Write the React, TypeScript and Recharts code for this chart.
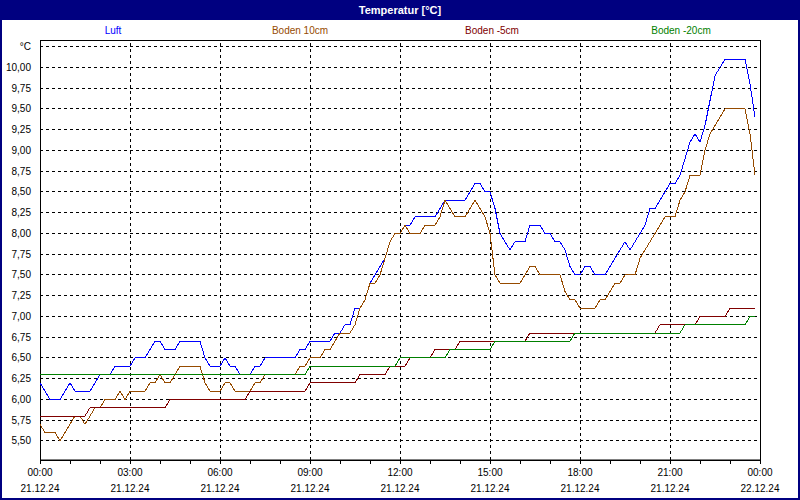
import {
  LineChart,
  Line,
  XAxis,
  YAxis,
  CartesianGrid,
  ReferenceLine,
  ReferenceArea,
} from "recharts";

// 10-minute readings, 00:00 .. 23:50 (12 values per row = 2 hours)
const luft = [
  6.2, 6.1, 6.0, 6.0, 6.0, 6.1, 6.2, 6.1, 6.1, 6.1, 6.1, 6.2,
  6.3, 6.3, 6.3, 6.4, 6.4, 6.4, 6.4, 6.5, 6.5, 6.5, 6.6, 6.7,
  6.7, 6.6, 6.6, 6.6, 6.7, 6.7, 6.7, 6.7, 6.7, 6.5, 6.4, 6.4,
  6.4, 6.5, 6.4, 6.4, 6.3, 6.3, 6.3, 6.4, 6.4, 6.5, 6.5, 6.5,
  6.5, 6.5, 6.5, 6.5, 6.6, 6.6, 6.7, 6.7, 6.7, 6.7, 6.7, 6.8,
  6.8, 6.9, 6.9, 7.1, 7.1, 7.2, 7.4, 7.5, 7.6, 7.7, 7.9, 8.0,
  8.0, 8.1, 8.1, 8.2, 8.2, 8.2, 8.2, 8.2, 8.3, 8.4, 8.4, 8.4,
  8.4, 8.4, 8.5, 8.6, 8.6, 8.5, 8.5, 8.3, 8.0, 7.9, 7.8, 7.9,
  7.9, 7.9, 8.1, 8.1, 8.1, 8.0, 8.0, 7.9, 7.9, 7.8, 7.6, 7.5,
  7.5, 7.6, 7.6, 7.5, 7.5, 7.5, 7.6, 7.7, 7.8, 7.9, 7.8, 7.9,
  8.0, 8.1, 8.3, 8.3, 8.4, 8.5, 8.6, 8.6, 8.7, 8.9, 9.1, 9.2,
  9.1, 9.3, 9.6, 9.9, 10.0, 10.1, 10.1, 10.1, 10.1, 10.1, 9.8, 9.4,
];

const boden10 = [
  5.7, 5.6, 5.6, 5.6, 5.5, 5.6, 5.7, 5.8, 5.8, 5.7, 5.8, 5.9,
  5.9, 6.0, 6.0, 6.0, 6.1, 6.0, 6.1, 6.1, 6.1, 6.1, 6.2, 6.2,
  6.3, 6.2, 6.2, 6.3, 6.4, 6.4, 6.4, 6.4, 6.4, 6.2, 6.1, 6.1,
  6.1, 6.2, 6.2, 6.1, 6.1, 6.1, 6.1, 6.2, 6.2, 6.3, 6.3, 6.3,
  6.3, 6.3, 6.3, 6.3, 6.4, 6.4, 6.5, 6.5, 6.5, 6.6, 6.6, 6.7,
  6.8, 6.8, 6.8, 6.9, 7.1, 7.2, 7.4, 7.4, 7.5, 7.7, 7.9, 8.0,
  8.0, 8.1, 8.0, 8.0, 8.0, 8.1, 8.1, 8.1, 8.2, 8.4, 8.3, 8.2,
  8.2, 8.2, 8.3, 8.4, 8.3, 8.2, 8.0, 7.5, 7.4, 7.4, 7.4, 7.4,
  7.4, 7.5, 7.6, 7.6, 7.5, 7.5, 7.5, 7.5, 7.5, 7.3, 7.2, 7.2,
  7.1, 7.1, 7.1, 7.1, 7.2, 7.2, 7.3, 7.4, 7.4, 7.5, 7.5, 7.5,
  7.7, 7.8, 7.9, 8.0, 8.1, 8.2, 8.2, 8.2, 8.4, 8.5, 8.7, 8.7,
  8.7, 9.0, 9.2, 9.3, 9.4, 9.5, 9.5, 9.5, 9.5, 9.5, 9.2, 8.7,
];

const boden5 = [
  5.8, 5.8, 5.8, 5.8, 5.8, 5.8, 5.8, 5.8, 5.8, 5.8, 5.9, 5.9,
  5.9, 5.9, 5.9, 5.9, 5.9, 5.9, 5.9, 5.9, 5.9, 5.9, 5.9, 5.9,
  5.9, 5.9, 6.0, 6.0, 6.0, 6.0, 6.0, 6.0, 6.0, 6.0, 6.0, 6.0,
  6.0, 6.0, 6.0, 6.0, 6.0, 6.0, 6.1, 6.1, 6.1, 6.1, 6.1, 6.1,
  6.1, 6.1, 6.1, 6.1, 6.1, 6.1, 6.2, 6.2, 6.2, 6.2, 6.2, 6.2,
  6.2, 6.2, 6.2, 6.2, 6.3, 6.3, 6.3, 6.3, 6.3, 6.3, 6.4, 6.4,
  6.4, 6.4, 6.5, 6.5, 6.5, 6.5, 6.5, 6.6, 6.6, 6.6, 6.6, 6.6,
  6.7, 6.7, 6.7, 6.7, 6.7, 6.7, 6.7, 6.7, 6.7, 6.7, 6.7, 6.7,
  6.7, 6.7, 6.8, 6.8, 6.8, 6.8, 6.8, 6.8, 6.8, 6.8, 6.8, 6.8,
  6.8, 6.8, 6.8, 6.8, 6.8, 6.8, 6.8, 6.8, 6.8, 6.8, 6.8, 6.8,
  6.8, 6.8, 6.8, 6.8, 6.9, 6.9, 6.9, 6.9, 6.9, 6.9, 6.9, 6.9,
  7.0, 7.0, 7.0, 7.0, 7.0, 7.0, 7.1, 7.1, 7.1, 7.1, 7.1, 7.1,
];

const boden20 = [
  6.3, 6.3, 6.3, 6.3, 6.3, 6.3, 6.3, 6.3, 6.3, 6.3, 6.3, 6.3,
  6.3, 6.3, 6.3, 6.3, 6.3, 6.3, 6.3, 6.3, 6.3, 6.3, 6.3, 6.3,
  6.3, 6.3, 6.3, 6.3, 6.3, 6.3, 6.3, 6.3, 6.3, 6.3, 6.3, 6.3,
  6.3, 6.3, 6.3, 6.3, 6.3, 6.3, 6.3, 6.3, 6.3, 6.3, 6.3, 6.3,
  6.3, 6.3, 6.3, 6.3, 6.3, 6.3, 6.4, 6.4, 6.4, 6.4, 6.4, 6.4,
  6.4, 6.4, 6.4, 6.4, 6.4, 6.4, 6.4, 6.4, 6.4, 6.4, 6.4, 6.4,
  6.5, 6.5, 6.5, 6.5, 6.5, 6.5, 6.5, 6.5, 6.5, 6.5, 6.6, 6.6,
  6.6, 6.6, 6.6, 6.6, 6.6, 6.6, 6.6, 6.7, 6.7, 6.7, 6.7, 6.7,
  6.7, 6.7, 6.7, 6.7, 6.7, 6.7, 6.7, 6.7, 6.7, 6.7, 6.7, 6.8,
  6.8, 6.8, 6.8, 6.8, 6.8, 6.8, 6.8, 6.8, 6.8, 6.8, 6.8, 6.8,
  6.8, 6.8, 6.8, 6.8, 6.8, 6.8, 6.8, 6.8, 6.8, 6.9, 6.9, 6.9,
  6.9, 6.9, 6.9, 6.9, 6.9, 6.9, 6.9, 6.9, 6.9, 6.9, 7.0, 7.0,
];

const hourTicks = [0, 1, 2, 3, 4, 5, 6, 7, 8, 9, 10, 11, 12, 13, 14, 15, 16, 17, 18, 19, 20, 21, 22, 23, 24];
const gridHours = [3, 6, 9, 12, 15, 18, 21];
const tickTimes = ["00:00", "03:00", "06:00", "09:00", "12:00", "15:00", "18:00", "21:00", "00:00"];
const tickDates = ["21.12.24", "21.12.24", "21.12.24", "21.12.24", "21.12.24", "21.12.24", "21.12.24", "21.12.24", "22.12.24"];
const yTicks = [5.5, 5.75, 6, 6.25, 6.5, 6.75, 7, 7.25, 7.5, 7.75, 8, 8.25, 8.5, 8.75, 9, 9.25, 9.5, 9.75, 10, 10.25];

const series = [
  { key: "luft", name: "Luft", color: "#0000ff" },
  { key: "boden10", name: "Boden 10cm", color: "#964b00" },
  { key: "boden5", name: "Boden -5cm", color: "#800000" },
  { key: "boden20", name: "Boden -20cm", color: "#008000" },
];

const legendCenters = [113, 300, 492, 681];

const data = luft.map((v, i) => ({
  t: i / 6,
  luft: v,
  boden10: boden10[i],
  boden5: boden5[i],
  boden20: boden20[i],
}));

const FONT = "'Liberation Sans', Arial, sans-serif";
const NAVY = "#000080";

function TimeTick(props: any) {
  const { x, y, payload } = props;
  if (payload.value % 3 !== 0) return null;
  const idx = payload.value / 3;
  return (
    <g>
      <text x={x} y={y + 10} textAnchor="middle" fontSize={10} fontFamily={FONT} fill="#000">
        {tickTimes[idx]}
      </text>
      <text x={x} y={y + 26} textAnchor="middle" fontSize={10} fontFamily={FONT} fill="#000">
        {tickDates[idx]}
      </text>
    </g>
  );
}

export default function App() {
  return (
    <div style={{ position: "fixed", left: 0, top: 0, width: 800, height: 500, background: "#fff", fontFamily: FONT }}>
      <LineChart width={800} height={500} data={data} margin={{ top: 40, right: 40, bottom: 0, left: 0 }}>
        <CartesianGrid vertical={false} stroke="#000" strokeDasharray="3 3" shapeRendering="crispEdges" />
        {gridHours.map((h) => (
          <ReferenceLine key={h} x={h} stroke="#000" strokeDasharray="3 3" shapeRendering="crispEdges" />
        ))}
        <XAxis
          dataKey="t"
          type="number"
          domain={[0, 24]}
          ticks={hourTicks}
          interval={0}
          height={40}
          tickSize={4}
          tickLine={{ stroke: "#000", shapeRendering: "crispEdges" }}
          axisLine={{ stroke: "#000" }}
          tick={<TimeTick />}
        />
        <YAxis
          type="number"
          domain={[5.27, 10.33]}
          allowDataOverflow
          ticks={yTicks}
          interval={0}
          width={40}
          axisLine={false}
          tickLine={false}
          tickMargin={3}
          tick={{ fontSize: 10, fill: "#000", fontFamily: FONT }}
          tickFormatter={(v: number) => (v > 10.2 ? "°C" : v.toFixed(2).replace(".", ","))}
        />
        <ReferenceArea
          x1={0}
          x2={24}
          y1={5.27}
          y2={10.33}
          fill="none"
          stroke="#000"
          strokeWidth={1}
          shapeRendering="crispEdges"
          ifOverflow="extendDomain"
        />
        {series.map((s) => (
          <Line
            key={s.key}
            type="linear"
            dataKey={s.key}
            name={s.name}
            stroke={s.color}
            strokeWidth={1}
            dot={false}
            shapeRendering="crispEdges"
            isAnimationActive={false}
          />
        ))}
      </LineChart>
      <div
        style={{
          position: "absolute",
          left: 0,
          top: 0,
          width: 800,
          height: 20,
          background: NAVY,
          color: "#fff",
          fontWeight: "bold",
          fontSize: 11,
          lineHeight: "20px",
          textAlign: "center",
        }}
      >
        Temperatur [°C]
      </div>
      {series.map((s, i) => (
        <div
          key={s.key}
          style={{
            position: "absolute",
            left: legendCenters[i] - 60,
            width: 120,
            top: 24,
            fontSize: 10,
            lineHeight: "14px",
            textAlign: "center",
            color: s.color,
          }}
        >
          {s.name}
        </div>
      ))}
      <div
        style={{
          position: "absolute",
          inset: 0,
          border: `2px solid ${NAVY}`,
          boxSizing: "border-box",
          pointerEvents: "none",
        }}
      />
    </div>
  );
}
